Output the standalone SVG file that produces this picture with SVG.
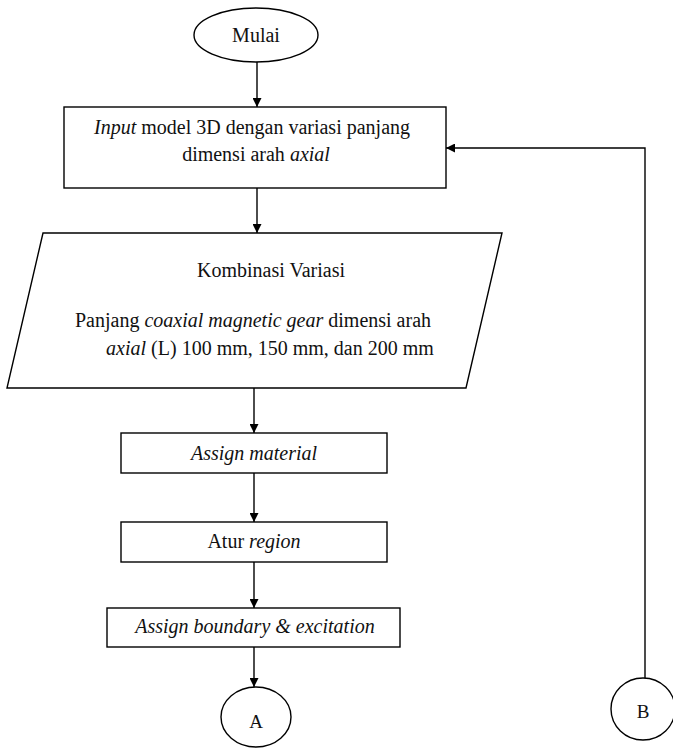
<svg xmlns="http://www.w3.org/2000/svg" width="673" height="748" viewBox="0 0 673 748">
  <defs>
    <marker id="arrow" viewBox="0 0 10 10" refX="10" refY="5" markerWidth="9" markerHeight="9" markerUnits="userSpaceOnUse" orient="auto">
      <path d="M0,0 L10,5 L0,10 Z" fill="#000"/>
    </marker>
    <style>
      .shape { fill: #fff; stroke: #000; stroke-width: 1.4; }
      .edge { fill: none; stroke: #000; stroke-width: 1.4; }
      text { font-family: "Liberation Serif", "Times New Roman", serif; font-size: 20px; fill: #111; text-anchor: middle; }
      .it { font-style: italic; }
      .label { font-size: 19px; }
    </style>
  </defs>
  <rect width="673" height="748" fill="#fff"/>

  <g id="connectors">
    <line class="edge" x1="257" y1="62" x2="257" y2="107" marker-end="url(#arrow)"/>
    <line class="edge" x1="257" y1="188" x2="257" y2="233" marker-end="url(#arrow)"/>
    <line class="edge" x1="254" y1="388" x2="254" y2="433" marker-end="url(#arrow)"/>
    <line class="edge" x1="254" y1="473" x2="254" y2="522" marker-end="url(#arrow)"/>
    <line class="edge" x1="254" y1="562" x2="254" y2="608" marker-end="url(#arrow)"/>
    <line class="edge" x1="254" y1="647" x2="254" y2="687" marker-end="url(#arrow)"/>
    <polyline class="edge" points="645,678 645,148 446,148" marker-end="url(#arrow)"/>
  </g>

  <g id="start">
    <ellipse class="shape" cx="256" cy="35" rx="62" ry="27"/>
    <text x="256" y="42">Mulai</text>
  </g>

  <g id="input-model">
    <rect class="shape" x="64" y="107" width="382" height="81"/>
    <text x="252" y="134"><tspan class="it">Input</tspan> model 3D dengan variasi panjang</text>
    <text x="256" y="161">dimensi arah <tspan class="it">axial</tspan></text>
  </g>

  <g id="variations">
    <polygon class="shape" points="43,233 502,233 466,388 7,388"/>
    <text x="271" y="277">Kombinasi Variasi</text>
    <text x="253" y="327">Panjang <tspan class="it">coaxial magnetic gear</tspan> dimensi arah</text>
    <text x="270" y="355"><tspan class="it">axial</tspan> (L) 100 mm, 150 mm, dan 200 mm</text>
  </g>

  <g id="assign-material">
    <rect class="shape" x="121" y="433" width="266" height="40"/>
    <text x="254" y="460" class="it">Assign material</text>
  </g>

  <g id="set-region">
    <rect class="shape" x="121" y="522" width="266" height="40"/>
    <text x="254" y="548">Atur <tspan class="it">region</tspan></text>
  </g>

  <g id="assign-boundary">
    <rect class="shape" x="107" y="608" width="293" height="39"/>
    <text x="255" y="633" class="it">Assign boundary &amp; excitation</text>
  </g>

  <g id="connector-a">
    <ellipse class="shape" cx="256" cy="717" rx="35" ry="30"/>
    <text x="256" y="728" class="label">A</text>
  </g>

  <g id="connector-b">
    <ellipse class="shape" cx="643" cy="709" rx="32" ry="31"/>
    <text x="643" y="718" class="label">B</text>
  </g>
</svg>
